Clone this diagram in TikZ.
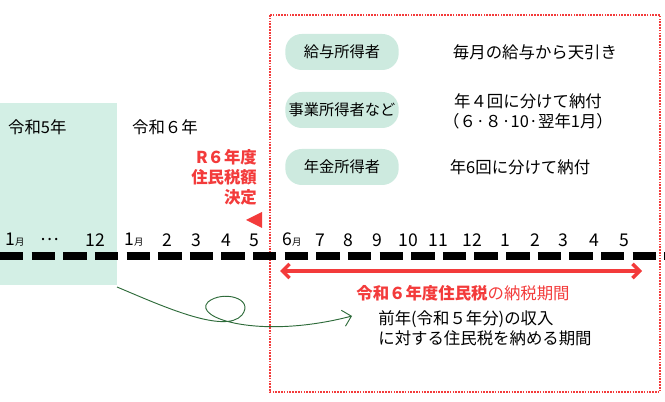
\documentclass[tikz,border=0pt]{standalone}
\usepackage{fontspec}
\setmainfont{Noto Sans CJK JP}
\usetikzlibrary{positioning,arrows.meta}
\definecolor{mint}{HTML}{D3EFE5}
\definecolor{pill}{HTML}{CDEADF}
\definecolor{hot}{HTML}{F33B3B}
\definecolor{vine}{HTML}{2E6B3A}
\begin{document}
\begin{tikzpicture}[x=0.03cm,y=-0.03cm,font=\fontsize{14}{17}\selectfont]
 	\tikzstyle{kind}=[rounded corners=14pt, fill=pill, minimum width=3.4cm, minimum height=1.08cm, inner sep=2pt, font=\fontsize{13}{15}\selectfont]
 	\tikzstyle{month}=[inner sep=0pt]
 	\tikzstyle{alert}=[text=hot, font=\fontsize{14}{17}\selectfont\bfseries]
 	\useasboundingbox (0,0) rectangle (665,402);
 	\fill[mint] (0,103) rectangle (117,285);
 	\draw[hot, densely dotted, line width=1.4pt] (270,15) rectangle (660,392);
 	\node[anchor=west] (y5) at (4,127) {令和5年};
 	\node[anchor=west] (y6) at (128,127) {令和６年};
 	\node[kind] (salary) at (342,52) {給与所得者};
 	\node[kind] (biz) at (342,110) {事業所得者など};
 	\node[kind] (pension) at (342,167) {年金所得者};
 	\node (tsal) at (535,52) {毎月の給与から天引き};
 	\node[align=center] (tbiz) at (528,111) {年４回に分けて納付\\（６·８·10·翌年1月）};
 	\node (tpen) at (520,167) {年6回に分けて納付};
 	\node[alert, align=right, anchor=east] (fix) at (261,177) {R６年度\\住民税額\\決定};
 	\fill[hot] (246,220) -- (262,212) -- (262,228) -- cycle;
 	\foreach \x/\m in {15/1{\footnotesize 月}, 50/…, 95/12, 134/1{\footnotesize 月}, 167/2, 196/3, 226/4, 254/5, 292/6{\footnotesize 月}, 320/7, 348/8, 377/9, 408/10, 438/11, 472/12, 505/1, 535/2, 563/3, 594/4, 624/5}
 		\node[month, font=\fontsize{15}{17}\selectfont] at (\x,240) {\m};
 	\coordinate (l0) at (0,256);
 	\coordinate (l1) at (665,256);
 	\draw[line width=6pt, dash pattern=on 20pt off 7pt] (l0) -- (l1);
 	\coordinate (p0) at (280,271);
 	\coordinate (p1) at (642,271);
 	\draw[hot, line width=3pt, {Straight Barb[length=6pt]}-{Straight Barb[length=6pt]}] (p0) -- (p1);
 	\node (span) at (463,293) {\textcolor{hot}{\bfseries 令和６年度住民税}\textcolor{hot}{の納税期間}};
 	\node[align=left] (why) at (485,328) {前年(令和５年分)の収入\\に対する住民税を納める期間};
 	\coordinate (c0) at (117,287);
 	\coordinate (c1) at (352,316);
 	\draw[vine, thick, -{Straight Barb[length=7pt]}] (c0) .. controls (160,305) and (225,335) .. (242,315)
 		.. controls (255,298) and (222,290) .. (208,302) .. controls (192,318) and (260,340) .. (c1);
 	\end{tikzpicture}
\end{document}
